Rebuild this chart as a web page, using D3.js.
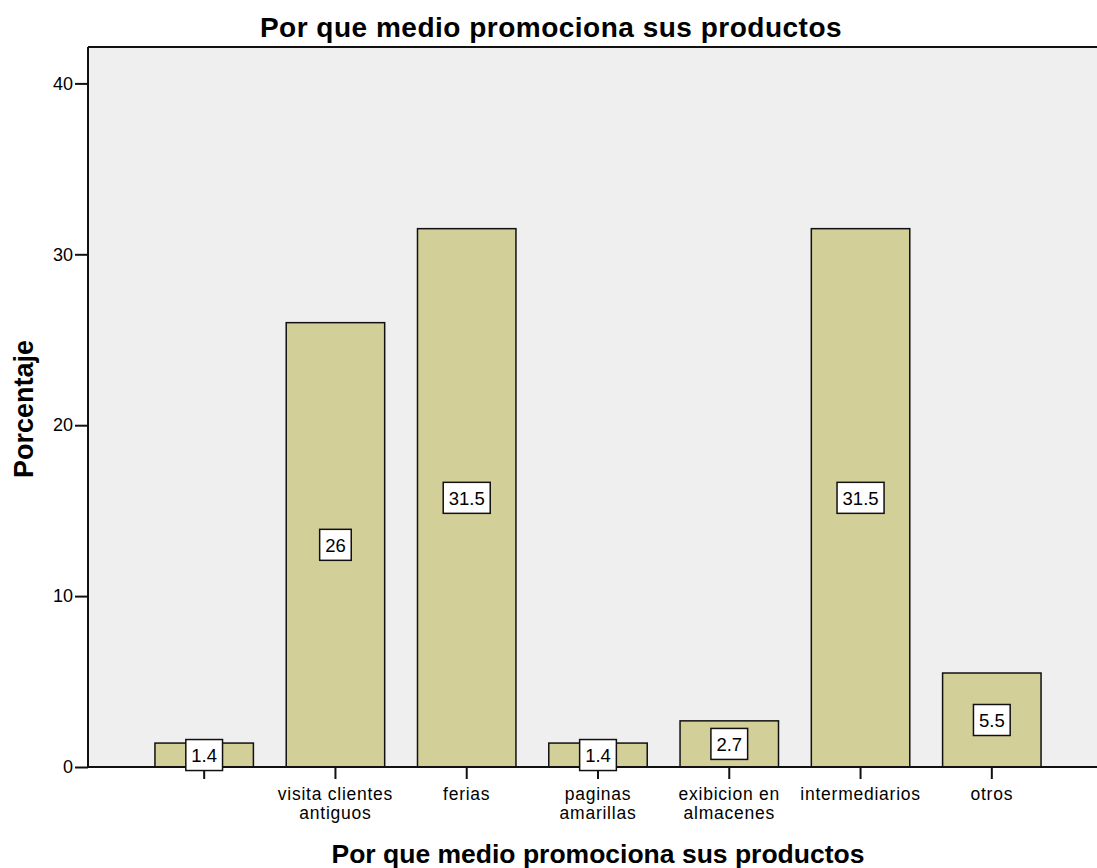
<!DOCTYPE html>
<html>
<head>
<meta charset="utf-8">
<script src="https://cdn.jsdelivr.net/npm/d3@7"></script>
<style>
  html, body { margin: 0; padding: 0; background: #fff; }
  svg { display: block; font-family: "Liberation Sans", Arial, sans-serif; }
</style>
</head>
<body>
<svg id="chart" width="1097" height="868"></svg>
<script>
// Categories (first one has an empty label) and percentages
const categories = ["", "visita clientes\nantiguos", "ferias", "paginas\namarillas", "exibicion en\nalmacenes", "intermediarios", "otros"];
const values = [1.4, 26, 31.5, 1.4, 2.7, 31.5, 5.5];
const yTicks = [0, 10, 20, 30, 40];

const title = "Por que medio promociona sus productos";
const xTitle = "Por que medio promociona sus productos";
const yTitle = "Porcentaje";

const svg = d3.select("#chart");
const plot = { left: 88, top: 47, right: 1108, bottom: 767 };

const x = d3.scaleBand()
  .domain(d3.range(categories.length))
  .range([plot.left, plot.right])
  .paddingInner(0.25)
  .paddingOuter(0.51);

const y = d3.scaleLinear()
  .domain([0, 42.13])
  .range([plot.bottom, plot.top]);

// Plot background
svg.append("rect")
  .attr("x", plot.left).attr("y", plot.top)
  .attr("width", plot.right - plot.left).attr("height", plot.bottom - plot.top)
  .attr("fill", "#efefef");

// Bars
svg.append("g").selectAll("rect")
  .data(values)
  .join("rect")
  .attr("x", (d, i) => x(i))
  .attr("y", d => y(d))
  .attr("width", x.bandwidth())
  .attr("height", d => y(0) - y(d))
  .attr("fill", "#d3cf99")
  .attr("stroke", "#111")
  .attr("stroke-width", 1.5);

// Frame: top border
svg.append("line")
  .attr("x1", plot.left).attr("x2", plot.right)
  .attr("y1", plot.top).attr("y2", plot.top)
  .attr("stroke", "#111").attr("stroke-width", 2);

// Y axis
const yAxis = svg.append("g")
  .attr("transform", `translate(${plot.left},0)`)
  .call(d3.axisLeft(y).tickValues(yTicks).tickSize(13).tickPadding(2).tickFormat(d3.format("d")));
yAxis.select(".domain").attr("stroke", "#111").attr("stroke-width", 2)
  .attr("d", `M0,${plot.top}V${plot.bottom}`);
yAxis.selectAll(".tick line").attr("stroke", "#111").attr("stroke-width", 2);
yAxis.selectAll(".tick text")
  .attr("font-size", 18).attr("fill", "#000")
  .attr("font-family", "Liberation Sans, Arial, sans-serif");

// X axis
const xAxis = svg.append("g")
  .attr("transform", `translate(0,${plot.bottom})`)
  .call(d3.axisBottom(x).tickSize(12).tickFormat(""));
xAxis.select(".domain").attr("stroke", "#111").attr("stroke-width", 2)
  .attr("d", `M${plot.left},0H${plot.right}`);
xAxis.selectAll(".tick line").attr("stroke", "#111").attr("stroke-width", 2);
xAxis.selectAll(".tick text").remove();

// Multi-line category labels, one text element per line
const catLabels = svg.append("g")
  .attr("font-size", 17.5).attr("letter-spacing", 0.75)
  .attr("fill", "#000").attr("text-anchor", "middle");
categories.forEach((c, i) => {
  const cx = x(i) + x.bandwidth() / 2;
  c.split("\n").forEach((ln, k) => {
    catLabels.append("text")
      .attr("x", cx)
      .attr("y", 799.5 + k * 19.5)
      .text(ln);
  });
});

// Value labels in boxes at mid-height of each bar
const lab = svg.append("g").selectAll("g")
  .data(values)
  .join("g")
  .attr("transform", (d, i) => `translate(${x(i) + x.bandwidth() / 2},${y(d / 2)})`);
lab.append("text")
  .attr("text-anchor", "middle")
  .attr("dy", "0.36em")
  .attr("font-size", 18.5)
  .attr("fill", "#000")
  .text(d => String(d));
lab.each(function () {
  const g = d3.select(this);
  const bb = g.select("text").node().getBBox();
  g.insert("rect", "text")
    .attr("x", bb.x - 5.5).attr("y", -15.5)
    .attr("width", bb.width + 11).attr("height", 31)
    .attr("fill", "#fff").attr("stroke", "#111").attr("stroke-width", 1.5);
});

// Titles
svg.append("text")
  .attr("x", 551).attr("y", 37)
  .attr("text-anchor", "middle")
  .attr("font-size", 28).attr("letter-spacing", 0.5).attr("font-weight", "bold")
  .text(title);

svg.append("text")
  .attr("x", 598).attr("y", 863)
  .attr("text-anchor", "middle")
  .attr("font-size", 26.5).attr("font-weight", "bold")
  .text(xTitle);

svg.append("text")
  .attr("transform", "translate(33,409) rotate(-90)")
  .attr("text-anchor", "middle")
  .attr("font-size", 27).attr("font-weight", "bold")
  .text(yTitle);
</script>
</body>
</html>
